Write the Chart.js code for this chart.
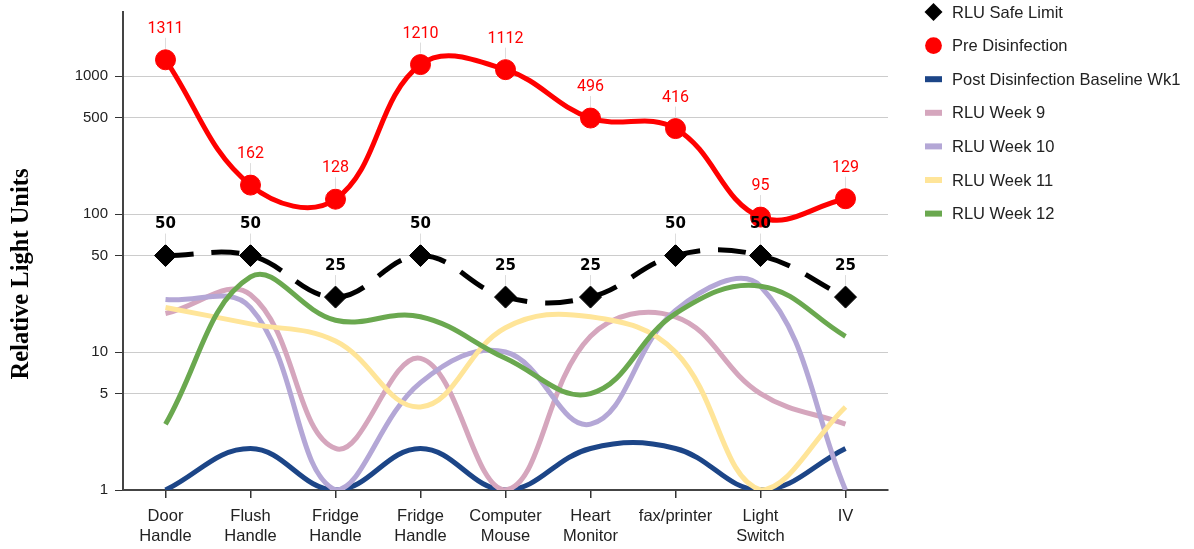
<!DOCTYPE html>
<html>
<head>
<meta charset="utf-8">
<script src="https://cdn.jsdelivr.net/npm/chart.js@4.4.1/dist/chart.umd.min.js"></script>
<style>
  html, body { margin: 0; padding: 0; background: #fff; }
  #wrap { width: 1194px; height: 549px; }
</style>
</head>
<body>
<div id="wrap"><canvas id="chart" width="1194" height="549"></canvas></div>
<script>
// categories / series
const categories = [['Door', 'Handle'], ['Flush', 'Handle'], ['Fridge', 'Handle'], ['Fridge', 'Handle'],
  ['Computer', 'Mouse'], ['Heart', 'Monitor'], 'fax/printer', ['Light', 'Switch'], 'IV'];
const safeLimit = [50, 50, 25, 50, 25, 25, 50, 50, 25];
const preDisinfection = [1311, 162, 128, 1210, 1112, 496, 416, 95, 129];
const postBaseline = [1, 2, 1, 2, 1, 2, 2, 1, 2];
const week9 = [19, 26, 2, 9, 1, 13, 18, 5, 3];
const week10 = [24, 21, 1, 6, 10, 3, 20, 30, 1];
const week11 = [21, 16, 12, 4, 15, 18, 10, 1, 4];
const week12 = [3, 35, 17, 18, 9, 5, 19, 30, 13];
const yTicks = [1, 5, 10, 50, 100, 500, 1000];

const seriesNames = ['RLU Safe Limit', 'Pre Disinfection', 'Post Disinfection Baseline Wk1',
  'RLU Week 9', 'RLU Week 10', 'RLU Week 11', 'RLU Week 12'];
const seriesColors = ['#000000', '#ff0000', '#1c4587', '#d5a6bd', '#b4a7d6', '#ffe599', '#6aa84f'];

const sans = '"Liberation Sans", Arial, sans-serif';

function lineSet(i, data, order) {
  return {
    label: seriesNames[i],
    data: data,
    borderColor: seriesColors[i],
    backgroundColor: seriesColors[i],
    borderWidth: 5,
    pointRadius: 0,
    pointHoverRadius: 0,
    tension: 0.4,
    clip: 0,
    order: order
  };
}

// labels above points + legend + y title
const overlay = {
  id: 'overlay',
  afterDatasetsDraw(chart) {
    const ctx = chart.ctx;
    [0, 1].forEach(di => {
      const meta = chart.getDatasetMeta(di);
      const ds = chart.data.datasets[di];
      meta.data.forEach((pt, k) => {
        const ty = pt.y - 31;
        ctx.save();
        ctx.strokeStyle = '#dddddd';
        ctx.lineWidth = 1;
        ctx.beginPath();
        ctx.moveTo(pt.x, ty + 9);
        ctx.lineTo(pt.x, pt.y - 11);
        ctx.stroke();
        ctx.textAlign = 'center';
        ctx.textBaseline = 'middle';
        if (di === 0) {
          ctx.font = 'bold 15px "DejaVu Sans", sans-serif';
          ctx.fillStyle = '#000';
        } else {
          ctx.font = '16px Roboto, sans-serif';
          ctx.fillStyle = '#ff0000';
        }
        ctx.fillText(String(ds.data[k]), pt.x, ty);
        ctx.restore();
      });
    });
  },
  afterDraw(chart) {
    const ctx = chart.ctx;
    ctx.save();
    // legend
    seriesNames.forEach((name, i) => {
      const cy = 12 + i * 33.6;
      const cx = 933.5;
      ctx.fillStyle = seriesColors[i];
      ctx.beginPath();
      if (i === 0) {
        ctx.moveTo(cx - 9, cy); ctx.lineTo(cx, cy - 9); ctx.lineTo(cx + 9, cy); ctx.lineTo(cx, cy + 9);
        ctx.closePath(); ctx.fill();
      } else if (i === 1) {
        ctx.arc(cx, cy, 8.4, 0, Math.PI * 2); ctx.fill();
      } else {
        ctx.fillRect(cx - 8.5, cy - 3, 17, 6);
      }
      ctx.fillStyle = '#222';
      ctx.font = '16.5px ' + sans;
      ctx.textAlign = 'left';
      ctx.textBaseline = 'middle';
      ctx.fillText(name, 952, cy + 1);
    });
    // y axis title
    ctx.translate(22, 274);
    ctx.rotate(-Math.PI / 2);
    ctx.font = 'bold 24.5px "Liberation Serif", "Times New Roman", serif';
    ctx.fillStyle = '#000';
    ctx.textAlign = 'center';
    ctx.textBaseline = 'middle';
    ctx.fillText('Relative Light Units', 0, 0);
    ctx.restore();
  }
};

new Chart(document.getElementById('chart'), {
  type: 'line',
  data: {
    labels: categories,
    datasets: [
      {
        label: seriesNames[0],
        data: safeLimit,
        borderColor: '#000',
        backgroundColor: '#000',
        borderWidth: 5,
        borderDash: [28, 18],
        pointStyle: 'rectRot',
        pointRadius: 11,
        pointBorderWidth: 1,
        pointBackgroundColor: '#000',
        tension: 0.4,
        clip: 0,
        order: 0
      },
      {
        label: seriesNames[1],
        data: preDisinfection,
        borderColor: '#ff0000',
        backgroundColor: '#ff0000',
        borderWidth: 5,
        pointStyle: 'circle',
        pointRadius: 10,
        pointBorderWidth: 1,
        pointBackgroundColor: '#ff0000',
        tension: 0.4,
        clip: 0,
        order: 1
      },
      lineSet(2, postBaseline, 6),
      lineSet(3, week9, 5),
      lineSet(4, week10, 4),
      lineSet(5, week11, 3),
      lineSet(6, week12, 2)
    ]
  },
  options: {
    responsive: false,
    animation: false,
    events: [],
    layout: { padding: { left: 0, right: 306, top: 12, bottom: 0 } },
    plugins: {
      legend: { display: false },
      tooltip: { enabled: false }
    },
    scales: {
      x: {
        offset: true,
        grid: { drawOnChartArea: false, drawTicks: true, tickLength: 8, tickColor: '#333', lineWidth: 1.5 },
        border: { color: '#444', width: 2 },
        ticks: {
          color: '#222',
          padding: 8,
          maxRotation: 0,
          autoSkip: false,
          font: { family: sans, size: 16.5, lineHeight: 1.22 }
        },
        afterFit: s => { s.height = 59; s.paddingLeft = 0; s.paddingRight = 0; }
      },
      y: {
        type: 'logarithmic',
        min: 1,
        max: 2910,
        afterBuildTicks: s => { s.ticks = yTicks.map(v => ({ value: v })); },
        afterFit: s => { s.width = 123; s.paddingTop = 0; s.paddingBottom = 0; },
        grid: { color: '#cccccc', lineWidth: 1, tickLength: 8, tickColor: '#333' },
        border: { color: '#444', width: 2 },
        ticks: {
          color: '#222',
          padding: 7,
          font: { family: sans, size: 15 },
          callback: v => String(v)
        }
      }
    }
  },
  plugins: [overlay]
});
</script>
</body>
</html>
